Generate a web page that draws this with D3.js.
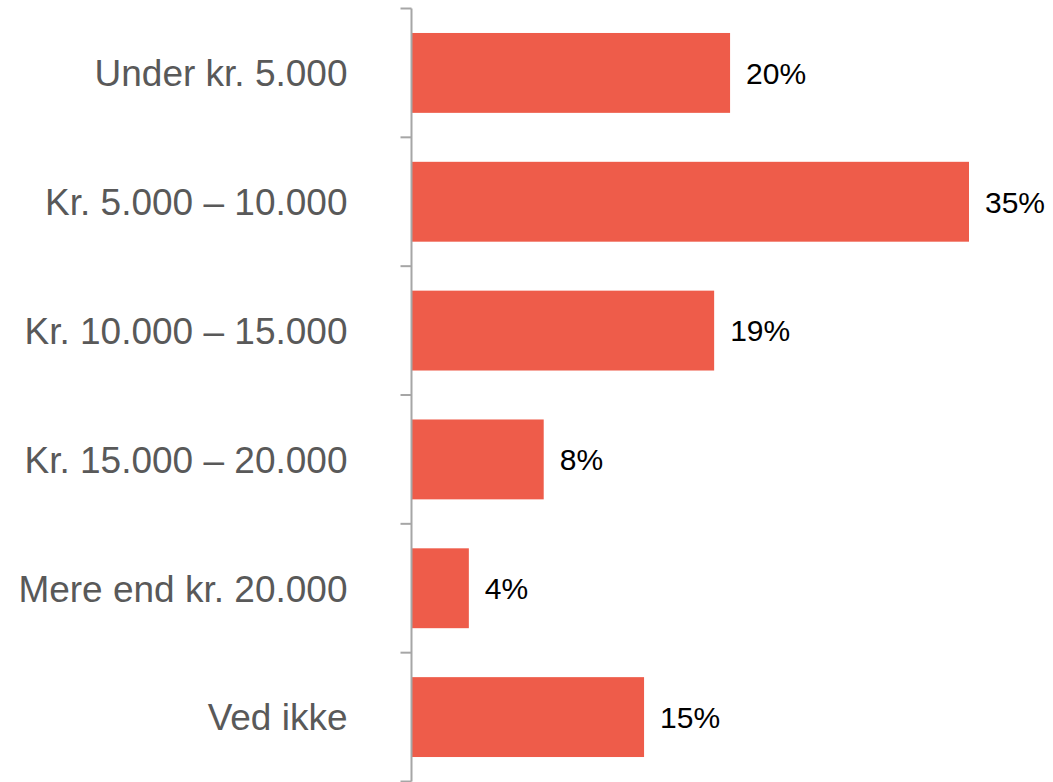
<!DOCTYPE html>
<html><head><meta charset="utf-8">
<script src="https://cdn.jsdelivr.net/npm/d3@7"></script>
<style>body{margin:0;background:#fff}</style>
</head><body>
<svg id="c" width="1053" height="782"></svg>
<script>
const categories = ["Under kr. 5.000","Kr. 5.000 – 10.000","Kr. 10.000 – 15.000","Kr. 15.000 – 20.000","Mere end kr. 20.000","Ved ikke"];
const values = [20, 35, 19, 8.3, 3.6, 14.6];
const valueLabels = ["20%","35%","19%","8%","4%","15%"];

const svg = d3.select("#c");
const x0 = 411.5;
const x = d3.scaleLinear().domain([0, 35]).range([x0, 969]);
const y = d3.scaleBand().domain(categories).range([8.5, 781.5]).paddingInner(0.38).paddingOuter(0.19);

svg.selectAll("rect.bar").data(categories).join("rect")
  .attr("x", x(0)).attr("y", d => y(d))
  .attr("width", (d,i) => x(values[i]) - x(0))
  .attr("height", y.bandwidth())
  .attr("fill", "#ee5c4a");

svg.selectAll("text.val").data(categories).join("text")
  .attr("x", (d,i) => x(values[i]) + 16)
  .attr("y", d => y(d) + y.bandwidth()/2)
  .attr("dy", "0.36em")
  .attr("font-family", "'Liberation Sans', Arial, sans-serif")
  .attr("font-size", 30)
  .attr("fill", "#000")
  .text((d,i) => valueLabels[i]);

const ax = svg.append("g").attr("transform", `translate(${x0},0)`)
  .call(d3.axisLeft(y).tickSize(0).tickPadding(64));
ax.select(".domain").remove();
ax.selectAll("text").attr("font-family", "'Liberation Sans', Arial, sans-serif")
  .attr("font-size", 37).attr("fill", "#595959").attr("dy", "0.36em");

const bounds = d3.range(categories.length + 1).map(i => 8.5 + i * (781.5 - 8.5) / categories.length);
svg.append("line").attr("x1", x0).attr("x2", x0).attr("y1", bounds[0]).attr("y2", bounds[bounds.length-1])
  .attr("stroke", "#a6a6a6").attr("stroke-width", 2);
svg.selectAll("line.tk").data(bounds).join("line")
  .attr("x1", x0 - 11).attr("x2", x0).attr("y1", d => d).attr("y2", d => d)
  .attr("stroke", "#a6a6a6").attr("stroke-width", 2);
</script>
</body></html>
